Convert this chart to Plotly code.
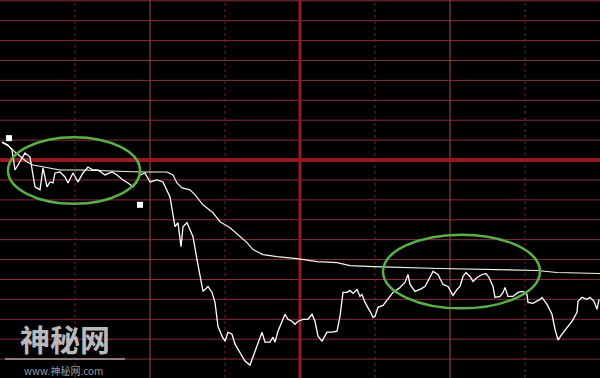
import plotly.graph_objects as go

# ---- data (minutes since open, price change in grid units; 0 = previous close) ----
price_min = [0.8, 3.2, 4.8, 6.0, 10.0, 12.0, 14.0, 16.0, 17.2, 18.8, 20.0, 21.2, 22.0, 24.0, 26.0, 27.2,
             29.2, 31.2, 33.2, 35.2, 37.2, 39.2, 42.0, 44.8, 46.8, 49.2, 51.2, 53.2, 54.8, 56.0, 58.0, 60.0,
             62.8, 65.2, 68.0, 69.2, 70.0, 71.2, 72.4, 73.2, 74.8, 76.0, 77.2, 78.8, 80.0, 81.2, 83.2, 84.8,
             86.0, 87.2, 88.8, 90.0, 91.2, 92.8, 94.0, 96.0, 98.0, 100.0, 101.2, 103.2, 104.8, 106.0, 108.0,
             109.2, 110.0, 111.2, 112.8, 114.0, 115.2, 116.8, 118.0, 119.2, 121.2, 123.2, 124.8, 126.0, 127.2,
             128.8, 130.8, 132.8, 134.8, 136.0, 137.2, 138.8, 140.0, 141.2, 142.8, 144.0, 144.8, 146.0, 148.0,
             149.2, 150.0, 151.2, 153.2, 155.2, 157.2, 160.0, 162.0, 163.2, 164.0, 166.0, 168.0, 170.0, 172.0,
             173.2, 175.2, 177.2, 179.2, 181.2, 182.8, 184.0, 185.2, 186.4, 188.0, 189.2, 190.8, 192.8, 194.4,
             195.6, 197.2, 198.0, 200.0, 201.2, 202.0, 203.2, 205.2, 207.2, 209.2, 210.8, 211.2, 213.2, 216.0,
             216.8, 218.8, 220.8, 222.0, 223.2, 224.8, 226.8, 228.8, 230.8, 231.2, 232.8, 234.8, 236.0, 237.6,
             238.8, 239.6]
price_val = [0.90, 0.75, 0.50, -0.50, 0.35, 0.15, -1.35, -1.50, -0.40, -1.35, -1.10, -1.15, -0.65, -0.60,
             -0.85, -1.15, -0.65, -1.10, -0.65, -0.35, -0.50, -0.50, -0.75, -0.60, -0.75, -1.00, -1.15, -1.35,
             -1.10, -0.75, -0.65, -1.10, -1.00, -1.10, -1.85, -2.85, -3.35, -3.15, -4.35, -3.35, -3.15, -3.50,
             -3.85, -5.00, -5.85, -6.60, -6.35, -6.65, -7.15, -8.35, -8.85, -9.10, -8.65, -8.75, -9.25, -9.65,
             -10.10, -10.30, -9.90, -9.15, -8.65, -9.15, -9.15, -8.90, -9.15, -8.60, -8.15, -7.75, -8.00, -8.10,
             -8.25, -8.10, -8.00, -8.00, -7.75, -8.10, -8.85, -9.10, -8.65, -8.65, -8.60, -7.85, -6.65, -6.65,
             -6.55, -6.70, -6.50, -6.85, -6.75, -7.15, -7.60, -7.90, -7.85, -7.40, -7.30, -7.00, -6.65, -6.40,
             -6.15, -5.75, -6.25, -6.60, -6.50, -6.35, -5.85, -5.60, -5.75, -6.25, -6.35, -6.80, -6.50, -6.35,
             -5.85, -5.65, -5.85, -6.10, -5.90, -5.75, -5.70, -5.90, -6.35, -6.90, -6.85, -6.65, -6.40, -6.85,
             -6.85, -6.65, -6.60, -6.75, -7.15, -7.20, -7.00, -6.90, -7.25, -7.75, -8.50, -9.05, -8.75, -8.40,
             -8.10, -7.65, -7.10, -6.90, -7.00, -6.90, -7.10, -7.50, -7.00]

avg_min = [0.8, 4.0, 6.0, 10.8, 13.2, 17.2, 24.0, 33.2, 46.8, 56.0, 66.8, 69.2, 70.8, 72.8, 76.0, 78.0,
           81.2, 85.2, 88.0, 92.0, 95.2, 98.8, 101.2, 105.2, 110.8, 118.8, 126.8, 134.8, 140.0, 149.2,
           176.0, 196.0, 214.8, 222.8, 240.0]
avg_val = [0.90, 0.65, 0.40, -0.10, -0.25, -0.35, -0.50, -0.50, -0.55, -0.60, -0.60, -0.75, -1.15, -1.40,
           -1.50, -1.75, -2.25, -2.65, -3.10, -3.40, -3.75, -4.15, -4.50, -4.75, -4.85, -4.95, -5.10, -5.15,
           -5.30, -5.35, -5.45, -5.50, -5.55, -5.65, -5.70]

marker_min = [3.6, 56.0]
marker_val = [1.10, -2.25]

# highlighted windows: (start min, end min, high, low)
highlight_windows = [(3.2, 56.0, 1.15, -2.2), (153.2, 216.0, -3.75, -7.45)]

h_grid = list(range(-10, 9))
v_grid_solid = [60, 180]
v_grid_dotted = [30, 90, 150, 210]
midday = 120

W, H = 600, 378
fig = go.Figure()

shapes = []
for v in h_grid:
    if v == 0:
        continue
    shapes.append(dict(type="line", xref="paper", yref="y", x0=0, x1=1, y0=v, y1=v,
                       line=dict(color="rgb(135,48,58)", width=1), layer="below"))
for m in v_grid_dotted:
    shapes.append(dict(type="line", xref="x", yref="paper", x0=m, x1=m, y0=0, y1=1,
                       line=dict(color="rgb(110,35,45)", width=1, dash="dot"), layer="below"))
for m in v_grid_solid:
    shapes.append(dict(type="line", xref="x", yref="paper", x0=m, x1=m, y0=0, y1=1,
                       line=dict(color="rgb(150,55,65)", width=1.2), layer="below"))
shapes.append(dict(type="line", xref="paper", yref="y", x0=0, x1=1, y0=0, y1=0,
                   line=dict(color="rgb(150,25,32)", width=4), layer="below"))
shapes.append(dict(type="line", xref="x", yref="paper", x0=midday, x1=midday, y0=0, y1=1,
                   line=dict(color="rgb(145,28,35)", width=3), layer="below"))
for (a, b, hi, lo) in highlight_windows:
    shapes.append(dict(type="circle", xref="x", yref="y", x0=a, x1=b, y0=lo, y1=hi,
                       line=dict(color="rgb(90,175,75)", width=2.5)))

# watermark underline
shapes.append(dict(type="line", xref="paper", yref="paper", x0=5 / W, x1=125 / W,
                   y0=1 - 359 / H, y1=1 - 359 / H, line=dict(color="rgb(220,220,220)", width=1)))

fig.add_trace(go.Scatter(x=avg_min, y=avg_val, mode="lines",
                         line=dict(color="rgb(245,245,225)", width=1.2), hoverinfo="skip"))
fig.add_trace(go.Scatter(x=price_min, y=price_val, mode="lines",
                         line=dict(color="white", width=1.3), hoverinfo="skip"))
fig.add_trace(go.Scatter(x=marker_min, y=marker_val, mode="markers",
                         marker=dict(symbol="square", size=6, color="white"), hoverinfo="skip"))

annotations = [
    dict(text="<b>神秘网</b>", xref="paper", yref="paper", x=65 / W, y=1 - 338 / H,
         xanchor="center", yanchor="middle", showarrow=False,
         font=dict(family="Noto Sans CJK SC", size=30, color="rgba(205,205,205,0.92)")),
    dict(text="www.神秘网.com", xref="paper", yref="paper", x=63 / W, y=1 - 370 / H,
         xanchor="center", yanchor="middle", showarrow=False,
         font=dict(family="Noto Sans CJK SC", size=10, color="rgba(175,175,175,0.9)")),
]

fig.update_layout(
    width=W, height=H, margin=dict(l=0, r=0, t=0, b=0),
    paper_bgcolor="black", plot_bgcolor="black", showlegend=False,
    shapes=shapes, annotations=annotations,
    xaxis=dict(range=[0, 240], visible=False, showgrid=False, zeroline=False, fixedrange=True),
    yaxis=dict(range=[-10.95, 8.04], visible=False, showgrid=False, zeroline=False, fixedrange=True),
)

fig.write_html("out.html", config={"displayModeBar": False})
